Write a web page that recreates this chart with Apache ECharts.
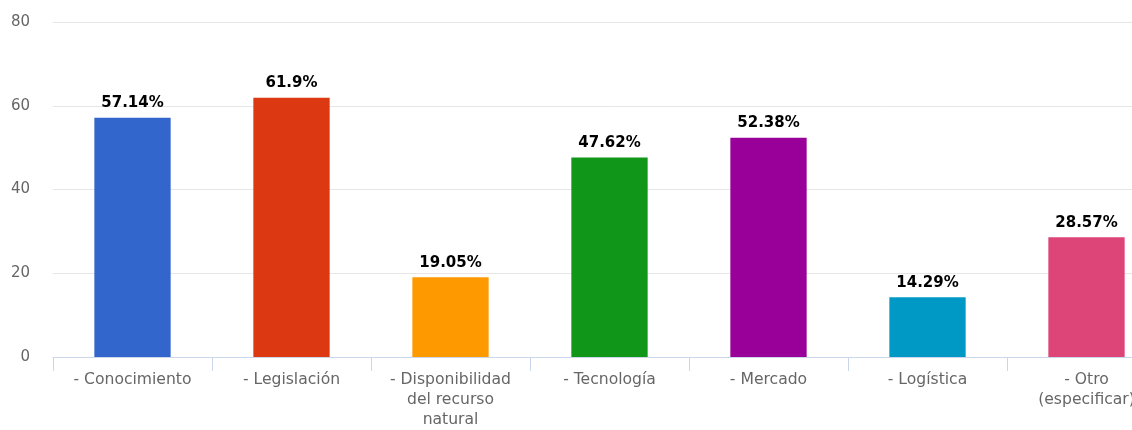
<!DOCTYPE html>
<html><head><meta charset="utf-8">
<script src="https://cdn.jsdelivr.net/npm/echarts@6/dist/echarts.min.js"></script>
<style>html,body{margin:0;padding:0;background:#fff;overflow:hidden}#c{width:1166px;height:430px}</style>
</head><body><div id="c"></div>
<script>
const categories = ['- Conocimiento', '- Legislación', '- Disponibilidad\ndel recurso\nnatural', '- Tecnología', '- Mercado', '- Logística', '- Otro\n(especificar)'];
const values = [57.14, 61.9, 19.05, 47.62, 52.38, 14.29, 28.57];
const colors = ['#3366cc', '#dc3912', '#ff9900', '#109618', '#990099', '#0099c6', '#dd4477'];
const yTicks = { min: 0, max: 80, interval: 20 };

const chart = echarts.init(document.getElementById('c'), null, { renderer: 'canvas', width: 1166, height: 430 });
chart.setOption({
  animation: false,
  grid: { left: 53, right: 0, top: 22, height: 339, containLabel: false },
  xAxis: {
    type: 'category',
    data: categories,
    axisLine: { lineStyle: { color: '#ccd6eb', width: 1 } },
    axisTick: { show: true, length: 14, lineStyle: { color: '#ccd6eb' }, alignWithLabel: false },
    axisLabel: { color: '#666666', fontSize: 15.6, fontFamily: 'DejaVu Sans', margin: 13, lineHeight: 20, interval: 0 }
  },
  yAxis: {
    type: 'value',
    min: yTicks.min, max: yTicks.max, interval: yTicks.interval,
    axisLine: { show: false },
    axisTick: { show: false },
    splitLine: { lineStyle: { color: '#e6e6e6', width: 1 } },
    axisLabel: { color: '#666666', fontSize: 15, fontFamily: 'DejaVu Sans', margin: 23 }
  },
  series: [{
    type: 'bar',
    barWidth: '48%',
    data: values.map((v, i) => ({ value: v, itemStyle: { color: colors[i] } })),
    label: {
      show: true, position: 'top', distance: 7,
      formatter: p => p.value + '%',
      color: '#000', fontWeight: 'bold', fontSize: 15, fontFamily: 'DejaVu Sans'
    }
  }]
});
</script></body></html>
